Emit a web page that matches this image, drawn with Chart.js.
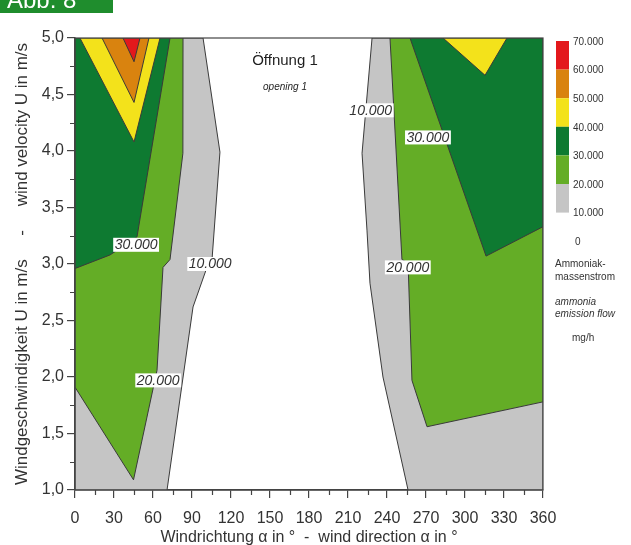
<!DOCTYPE html>
<html>
<head>
<meta charset="utf-8">
<script src="https://cdn.jsdelivr.net/npm/chart.js@4.4.1/dist/chart.umd.min.js"></script>
<style>
  html, body { margin: 0; padding: 0; background: #ffffff; }
  #wrap { width: 631px; height: 545px; }
</style>
</head>
<body>
<div id="wrap"><canvas id="chart" width="631" height="545"></canvas></div>
<script>
// Ammonia emission flow (mg/h) over wind direction (°) and wind velocity (m/s)
const directionTicks = [0, 30, 60, 90, 120, 150, 180, 210, 240, 270, 300, 330, 360];
const velocityTicks = [1.0, 1.5, 2.0, 2.5, 3.0, 3.5, 4.0, 4.5, 5.0];
const levels = [10000, 20000, 30000, 40000, 50000, 60000, 70000];
const bandColors = ['#c5c5c5', '#64ad26', '#0e7a31', '#f3e21b', '#d9830f', '#e3181c'];

// Iso-lines [direction °, velocity m/s], each closing the region at or above its level
// west lobe
const west10 = [[0, 1.0], [0, 5.0], [98.5, 5.0], [111.5, 3.99], [105.4, 3.04], [101.5, 2.97], [90.8, 2.62], [70.8, 1.0]];
const west20 = [[0, 1.91], [0, 5.0], [83.1, 5.0], [83.0, 3.98], [73.1, 3.04], [67.7, 2.97], [63.1, 2.06], [45.0, 1.09]];
const west30 = [[0, 2.96], [0, 5.0], [73.1, 5.0], [47.7, 3.24], [26.9, 3.08]];
const west40 = [[3.8, 5.0], [45.4, 4.08], [65.4, 5.0]];
const west50 = [[20.8, 5.0], [45.4, 4.43], [56.9, 5.0]];
const west60 = [[36.9, 5.0], [45.4, 4.79], [50.0, 5.0]];
// east lobe
const east10 = [[228.5, 5.0], [220.8, 3.98], [224.6, 3.30], [226.9, 2.83], [236.9, 2.0], [256.2, 1.0], [360, 1.0], [360, 5.0]];
const east20 = [[242.3, 5.0], [251.5, 3.04], [256.2, 3.01], [259.2, 1.97], [270.8, 1.56], [360, 1.78], [360, 5.0]];
const east30 = [[257.7, 5.0], [316.2, 3.07], [360, 3.33], [360, 5.0]];
const east40 = [[283.1, 5.0], [315.4, 4.67], [332.3, 5.0]];

// iso-line labels: level and anchor [direction, velocity]
const isoLabels = [
  [30000, 47.0, 3.17], [10000, 104.0, 3.0], [20000, 64.0, 1.97],
  [10000, 227.5, 4.36], [30000, 271.5, 4.12], [20000, 256.0, 2.97]
];

const regions = [
  [west10, 0], [west20, 1], [west30, 2], [west40, 3], [west50, 4], [west60, 5],
  [east10, 0], [east20, 1], [east30, 2], [east40, 3]
];

const fmtLevel = v => v === 0 ? '0' : String(v).replace(/\B(?=(\d{3})+(?!\d))/g, '.');
const FONT = "'Liberation Sans', Arial, sans-serif";
const TEXT = '#333333';

const datasets = regions.map(([pts, band]) => {
  const closed = pts.concat([pts[0]]).map(([x, y]) => ({ x, y }));
  return {
    data: closed,
    fill: 'shape',
    backgroundColor: bandColors[band],
    borderColor: '#3a3a3a',
    borderWidth: 1,
    pointRadius: 0,
    pointHoverRadius: 0,
    tension: 0,
    order: 10 - band
  };
});

const extras = {
  id: 'extras',
  beforeDraw(chart) {
    const ctx = chart.ctx;
    ctx.save();
    ctx.fillStyle = '#ffffff';
    ctx.fillRect(0, 0, chart.width, chart.height);
    ctx.restore();
  },
  afterDatasetsDraw(chart) {
    const { ctx, chartArea: a, scales: { x, y } } = chart;
    ctx.save();
    // frame
    ctx.strokeStyle = '#444444';
    ctx.lineWidth = 1.2;
    ctx.strokeRect(a.left, a.top, a.right - a.left, a.bottom - a.top);
    // iso-line labels
    ctx.font = 'italic 14px ' + FONT;
    ctx.textAlign = 'center';
    ctx.textBaseline = 'middle';
    isoLabels.forEach(([lvl, dx, dy]) => {
      const px = x.getPixelForValue(dx), py = y.getPixelForValue(dy);
      const t = fmtLevel(lvl);
      const w = ctx.measureText(t).width + 3;
      ctx.fillStyle = '#ffffff';
      ctx.fillRect(px - w / 2, py - 7, w, 14);
      ctx.fillStyle = TEXT;
      ctx.fillText(t, px, py + 0.5);
    });
    // panel title
    ctx.fillStyle = '#1e1e1e';
    ctx.font = '15px ' + FONT;
    ctx.fillText('Öffnung 1', 285, 61);
    ctx.font = 'italic 10px ' + FONT;
    ctx.fillText('opening 1', 285, 87);
    ctx.restore();
  },
  afterDraw(chart) {
    const { ctx, chartArea: a, scales: { x, y } } = chart;
    ctx.save();
    // minor ticks
    ctx.strokeStyle = '#444444';
    ctx.lineWidth = 1.2;
    ctx.beginPath();
    for (let v = 15; v < 360; v += 30) {
      const px = Math.round(x.getPixelForValue(v)) + 0.5;
      ctx.moveTo(px, a.bottom);
      ctx.lineTo(px, a.bottom + 5);
    }
    for (let v = 1.25; v < 5; v += 0.5) {
      const py = Math.round(y.getPixelForValue(v)) + 0.5;
      ctx.moveTo(a.left, py);
      ctx.lineTo(a.left - 5, py);
    }
    ctx.stroke();

    // colour key
    const kx = 556, kw = 13, top = 41, step = 28.6;
    const bands = bandColors.length;
    for (let i = 0; i < bands; i++) {
      ctx.fillStyle = bandColors[bands - 1 - i];
      ctx.fillRect(kx, top + i * step, kw, step);
    }
    ctx.fillStyle = TEXT;
    ctx.font = '10px ' + FONT;
    ctx.textAlign = 'left';
    ctx.textBaseline = 'middle';
    const keyLabels = levels.slice().reverse().concat([0]);
    keyLabels.forEach((v, i) => {
      ctx.fillText(fmtLevel(v), v === 0 ? 575 : 573, top + i * step + 1);
    });
    ctx.fillText('Ammoniak-', 555, 264);
    ctx.fillText('massenstrom', 555, 277);
    ctx.font = 'italic 10px ' + FONT;
    ctx.fillText('ammonia', 555, 302);
    ctx.fillText('emission flow', 555, 314);
    ctx.font = '10px ' + FONT;
    ctx.fillText('mg/h', 572, 338);

    // figure tag
    ctx.fillStyle = '#1f8d2d';
    ctx.fillRect(0, 0, 113, 13);
    ctx.fillStyle = '#ffffff';
    ctx.font = '24px ' + FONT;
    ctx.textBaseline = 'alphabetic';
    ctx.fillText('Abb. 8', 7, 8);
    ctx.restore();
  }
};

new Chart(document.getElementById('chart'), {
  type: 'line',
  data: { datasets },
  options: {
    responsive: false,
    animation: false,
    events: [],
    parsing: true,
    layout: { padding: { top: 38, right: 88, left: 0, bottom: 0 } },
    plugins: {
      legend: { display: false },
      tooltip: { enabled: false },
      filler: { propagate: false }
    },
    scales: {
      x: {
        type: 'linear',
        min: 0,
        max: 360,
        afterBuildTicks: s => { s.ticks = directionTicks.map(v => ({ value: v })); },
        afterFit: s => { s.height = 55; },
        grid: { drawOnChartArea: false, drawTicks: true, tickLength: 8, color: '#444444', lineWidth: 1.2 },
        border: { color: '#444444', width: 1.5 },
        ticks: { color: TEXT, font: { family: FONT, size: 16 }, padding: 11, maxRotation: 0, autoSkip: false },
        title: {
          display: true,
          text: 'Windrichtung \u03b1 in \u00b0  -  wind direction \u03b1 in \u00b0',
          color: TEXT,
          font: { family: FONT, size: 16 },
          padding: { top: 0, bottom: -2 }
        }
      },
      y: {
        type: 'linear',
        min: 1,
        max: 5,
        afterBuildTicks: s => { s.ticks = velocityTicks.map(v => ({ value: v })); },
        afterFit: s => { s.width = 75; },
        grid: { drawOnChartArea: false, drawTicks: true, tickLength: 8, color: '#444444', lineWidth: 1.2 },
        border: { color: '#444444', width: 1.5 },
        ticks: {
          color: TEXT,
          font: { family: FONT, size: 16 },
          padding: 3,
          autoSkip: false,
          callback: v => Number(v).toFixed(1).replace('.', ',')
        },
        title: {
          display: true,
          text: 'Windgeschwindigkeit U in m/s     -     wind velocity U in m/s',
          color: TEXT,
          font: { family: FONT, size: 17 },
          padding: { top: 12, bottom: 0 }
        }
      }
    }
  },
  plugins: [extras]
});
</script>
</body>
</html>
